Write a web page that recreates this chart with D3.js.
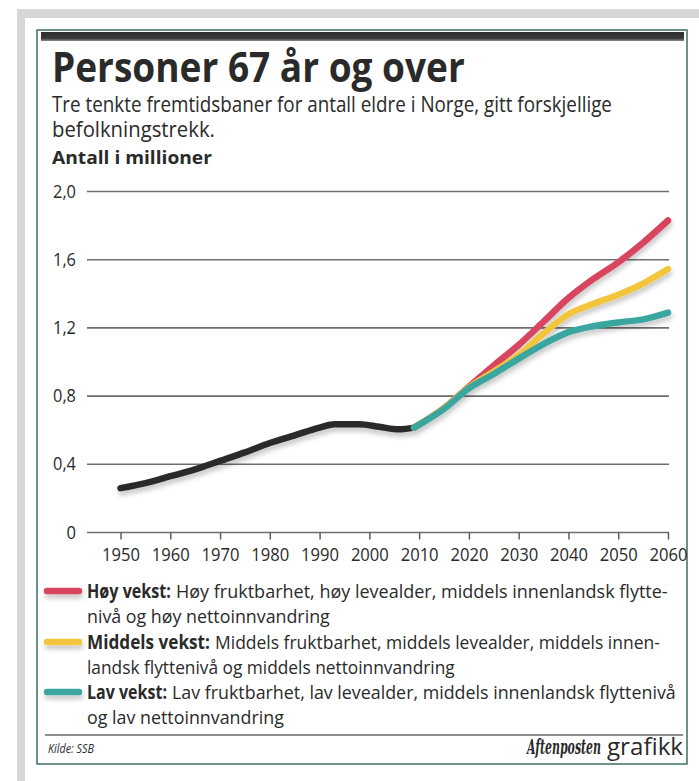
<!DOCTYPE html>
<html>
<head>
<meta charset="utf-8">
<script src="https://cdn.jsdelivr.net/npm/d3@7"></script>
<style>
  html, body { margin: 0; padding: 0; background: #fff; }
  svg { display: block; }
  text { font-family: "Open Sans", "Noto Sans", sans-serif; fill: #2a2a2a; }
</style>
</head>
<body>
<svg id="chart" width="699" height="781"></svg>
<script>
// ---- data -------------------------------------------------------------
const tickYears = [1950, 1960, 1970, 1980, 1990, 2000, 2010, 2020, 2030, 2040, 2050, 2060];
const yTickValues = [0, 0.4, 0.8, 1.2, 1.6, 2.0];

// registered population aged 67+ (millions)
const histYears  = [1950, 1955, 1960, 1965, 1970, 1975, 1980, 1985, 1990, 1993, 1998, 2002, 2006, 2009];
const histValues = [0.26, 0.29, 0.33, 0.37, 0.42, 0.47, 0.525, 0.57, 0.615, 0.635, 0.635, 0.62, 0.605, 0.615];

// projections
const projYears     = [2009, 2015, 2020, 2025, 2030, 2035, 2040, 2045, 2050, 2055, 2060];
const hoyValues     = [0.615, 0.73, 0.855, 0.98, 1.10, 1.237, 1.375, 1.487, 1.585, 1.70, 1.83];
const middelsValues = [0.615, 0.73, 0.85, 0.945, 1.04, 1.167, 1.28, 1.341, 1.395, 1.46, 1.545];
const lavValues     = [0.615, 0.725, 0.845, 0.93, 1.02, 1.105, 1.175, 1.21, 1.232, 1.25, 1.29];

const seriesNames  = ["Høy vekst", "Middels vekst", "Lav vekst"];
const seriesColors = ["#d8445f", "#f3c43e", "#3aa6a0"];
const legendLines = [
  [["Høy vekst:", "Høy fruktbarhet, høy levealder, middels innenlandsk flytte-"], "nivå og høy nettoinnvandring"],
  [["Middels vekst:", "Middels fruktbarhet, middels levealder, middels innen-"], "landsk flyttenivå og middels nettoinnvandring"],
  [["Lav vekst:", "Lav fruktbarhet, lav levealder, middels innenlandsk flyttenivå"], "og lav nettoinnvandring"]
];

// ---- layout -----------------------------------------------------------
const svg = d3.select("#chart");
const W = 699, H = 781;

// squeeze a text node horizontally so it occupies the given width
function fit(sel, x, y, width, anchor) {
  const node = sel.node();
  const w = node.getComputedTextLength();
  const s = width / w;
  sel.attr("x", 0).attr("y", 0)
     .attr("text-anchor", anchor || "start")
     .attr("transform", `translate(${x},${y}) scale(${s},1)`);
  return s;
}

const defs = svg.append("defs");
const shadow = defs.append("filter").attr("id", "shadow")
  .attr("filterUnits", "userSpaceOnUse")
  .attr("x", 0).attr("y", 0).attr("width", W).attr("height", H);
shadow.append("feDropShadow").attr("dx", 1).attr("dy", 4).attr("stdDeviation", 2.5)
  .attr("flood-color", "#000").attr("flood-opacity", 0.22);
const barGrad = defs.append("linearGradient").attr("id", "bar").attr("x1", 0).attr("y1", 0).attr("x2", 0).attr("y2", 1);
barGrad.append("stop").attr("offset", 0).attr("stop-color", "#2e2e2e");
barGrad.append("stop").attr("offset", 0.7).attr("stop-color", "#3a3a3a");
barGrad.append("stop").attr("offset", 1).attr("stop-color", "#8a8a8a");

// outer frame
svg.append("rect").attr("width", W).attr("height", H).attr("fill", "#fff");
svg.append("path")
  .attr("d", "M17,781 V9 H699 V18 H25 V781 Z")
  .attr("fill", "#d6d6d6");

// panel
svg.append("rect").attr("x", 37).attr("y", 30).attr("width", 650).attr("height", 734)
  .attr("fill", "#fff").attr("stroke", "#3d6e62").attr("stroke-width", 1.5);
svg.append("rect").attr("x", 41).attr("y", 32).attr("width", 643).attr("height", 9)
  .attr("fill", "url(#bar)");

// titles
fit(svg.append("text").text("Personer 67 år og over")
  .attr("font-size", 42).attr("font-weight", 700).attr("fill", "#262626"), 52, 82, 413);
fit(svg.append("text").text("Tre tenkte fremtidsbaner for antall eldre i Norge, gitt forskjellige")
  .attr("font-size", 21).attr("fill", "#333"), 52, 112, 560);
fit(svg.append("text").text("befolkningstrekk.")
  .attr("font-size", 21).attr("fill", "#333"), 52, 137, 163);
fit(svg.append("text").text("Antall i millioner")
  .attr("font-size", 17.5).attr("font-weight", 700).attr("fill", "#262626"), 52, 164, 160);

// ---- chart ------------------------------------------------------------
const x = d3.scaleLinear().domain([1950, 2060]).range([120.5, 668]);
const y = d3.scaleLinear().domain([0, 2]).range([532.5, 191.5]);
const gridX0 = 87, gridX1 = 669;

const fmt = v => v === 0 ? "0" : d3.format(".1f")(v).replace(".", ",");

const grid = svg.append("g");
grid.selectAll("line").data(yTickValues).join("line")
  .attr("x1", gridX0).attr("x2", gridX1)
  .attr("y1", d => y(d)).attr("y2", d => y(d))
  .attr("stroke", "#6e6e6e").attr("stroke-width", 1.6);

const yLab = svg.append("g");
yTickValues.forEach(v => {
  fit(yLab.append("text").text(fmt(v)).attr("font-size", 17.5).attr("fill", "#333"),
      76, y(v) + 6, v === 0 ? 9.5 : 23, "end");
});

// x axis: ticks below the zero line
const xAxis = d3.axisBottom(x).tickValues(tickYears).tickSize(7).tickFormat(d3.format("d"));
const xg = svg.append("g").attr("transform", `translate(0,${y(0)})`).call(xAxis);
xg.select(".domain").remove();
xg.selectAll(".tick line").attr("stroke", "#555").attr("stroke-width", 1.4);
xg.selectAll(".tick text").each(function () {
  const t = d3.select(this);
  t.attr("font-size", 19).attr("fill", "#333").attr("dy", null);
  const s = 38 / this.getComputedTextLength();
  t.attr("x", 0).attr("y", 0).attr("text-anchor", "middle")
   .attr("transform", `translate(0,28) scale(${s},1)`);
});

// lines
const line = d3.line().x(d => x(d[0])).y(d => y(d[1])).curve(d3.curveMonotoneX);
const lines = svg.append("g").attr("filter", "url(#shadow)")
  .attr("fill", "none").attr("stroke-width", 6.5)
  .attr("stroke-linecap", "round").attr("stroke-linejoin", "round");

lines.append("path").datum(d3.zip(histYears, histValues))
  .attr("d", line).attr("stroke", "#2c2c2c");
[hoyValues, middelsValues, lavValues].forEach((vals, i) => {
  lines.append("path").datum(d3.zip(projYears, vals))
    .attr("d", line).attr("stroke", seriesColors[i]);
});

// ---- legend -----------------------------------------------------------
const legX = 87;
const legBase = [598, 649, 699];
const boldWidths = [84, 123, 80];
const lineEnds = [668, 660, 676];
const contEnds = [330, 455, 284];
const leg = svg.append("g");
legendLines.forEach((ln, i) => {
  const b = legBase[i];
  leg.append("line").attr("x1", 47).attr("x2", 79).attr("y1", b - 7).attr("y2", b - 7)
    .attr("stroke", seriesColors[i]).attr("stroke-width", 6.5).attr("stroke-linecap", "round")
    .attr("filter", "url(#shadow)");
  fit(leg.append("text").text(ln[0][0]).attr("font-size", 19).attr("font-weight", 700)
      .attr("fill", "#222"), legX, b, boldWidths[i]);
  const restX = legX + boldWidths[i] + 5;
  fit(leg.append("text").text(ln[0][1]).attr("font-size", 19).attr("fill", "#333"),
      restX, b, lineEnds[i] - restX);
  fit(leg.append("text").text(ln[1]).attr("font-size", 19).attr("fill", "#333"),
      legX, b + 25, contEnds[i] - legX);
});

// ---- footer -----------------------------------------------------------
svg.append("line").attr("x1", 45).attr("x2", 683).attr("y1", 735).attr("y2", 735)
  .attr("stroke", "#6a6a6a").attr("stroke-width", 1.6);
fit(svg.append("text").text("Kilde: SSB").attr("font-size", 12).attr("font-style", "italic")
  .attr("fill", "#333"), 48, 753, 46);
fit(svg.append("text").text("grafikk").attr("font-size", 23).attr("fill", "#333"),
  683, 755, 76, "end");
fit(svg.append("text").text("Aftenposten").attr("font-size", 21).attr("font-weight", 700)
  .attr("font-style", "italic")
  .style("font-family", "'DejaVu Serif', 'Liberation Serif', serif").attr("fill", "#1e1e1e"),
  601, 754, 74, "end");
</script>
</body>
</html>
